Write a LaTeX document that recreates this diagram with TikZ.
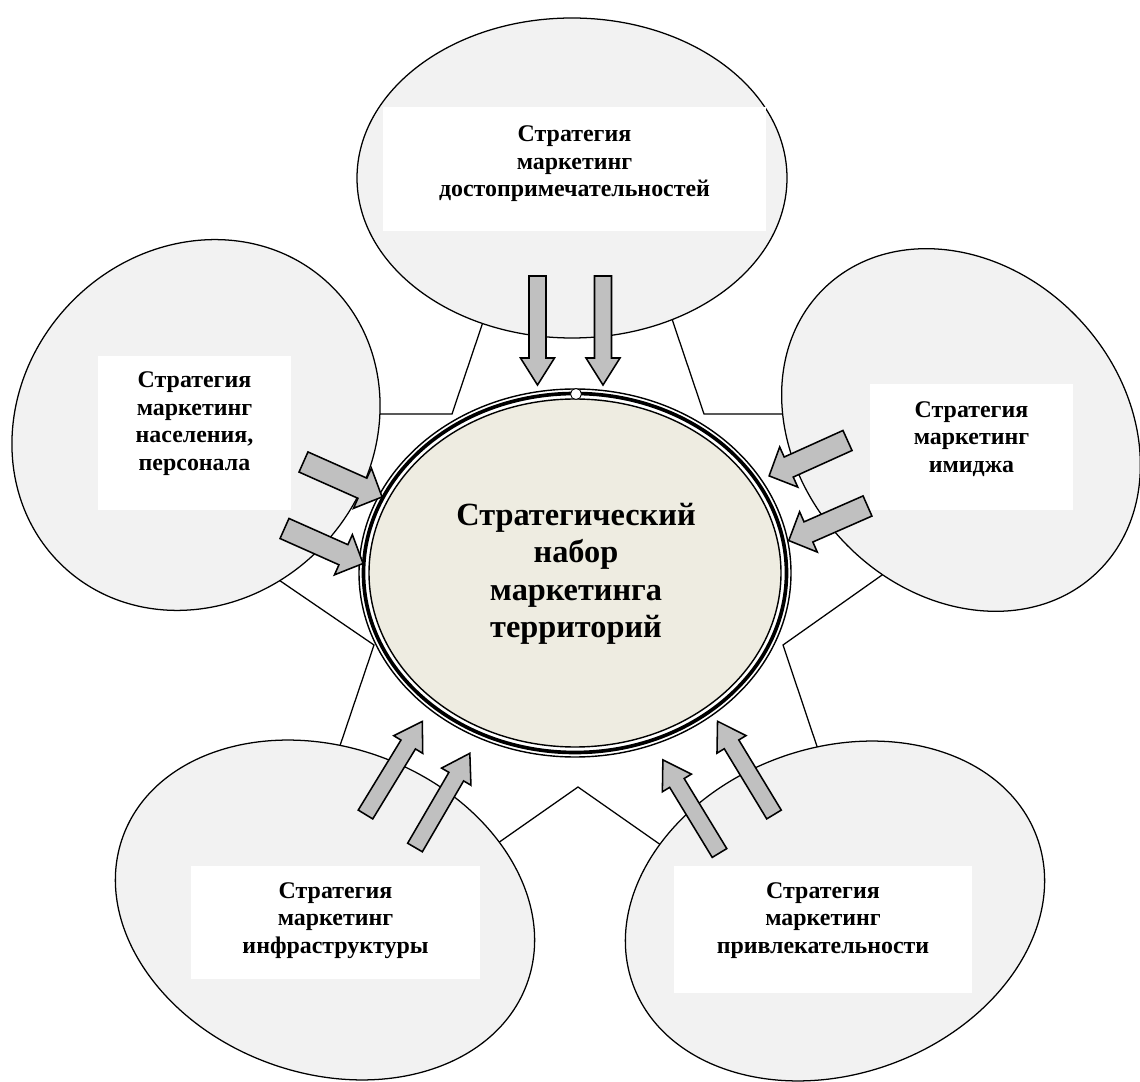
\documentclass[tikz,border=0pt]{standalone}
\usepackage{fontspec}
\setmainfont{Liberation Serif}

\definecolor{ovalgray}{HTML}{F2F2F2}
\definecolor{arrowgray}{HTML}{C0C0C0}
\definecolor{hubbeige}{HTML}{EEECE1}

\tikzset{
  oval/.style={draw=black, fill=ovalgray, line width=0.9pt},
  starline/.style={draw=black, line width=0.9pt},
  smalltext/.style={font=\bfseries\fontsize{17}{19.6}\selectfont, align=center, inner sep=0pt},
  bigtext/.style={font=\bfseries\fontsize{23}{26.6}\selectfont, align=center, inner sep=0pt},
  arrowline/.style={draw=black, fill=arrowgray, line width=1.1pt, line join=miter},
  % block arrow along +x: length, half shaft, half head, head length
  pics/blockarrow/.style n args={4}{code={
    \path[arrowline] (0,-#2) -- (#1-#4,-#2) -- (#1-#4,-#3) -- (#1,0)
      -- (#1-#4,#3) -- (#1-#4,#2) -- (0,#2) -- cycle;
  }},
}

\begin{document}
\begin{tikzpicture}[x=0.025cm, y=-0.025cm]

\clip (0,0) rectangle (1140,1082);

% star behind everything
\coordinate (tipT) at (578,40);
\coordinate (tipR) at (1110,414);
\coordinate (tipBR) at (908,1018);
\coordinate (tipBL) at (248,1018);
\coordinate (tipL) at (36,414);
\coordinate (inTL) at (452,414);
\coordinate (inTR) at (704,414);
\coordinate (inBR) at (783,645);
\coordinate (inB) at (578,787);
\coordinate (inBL) at (374,645);
\draw[starline] (tipT) -- (inTR) -- (tipR) -- (inBR) -- (tipBR) -- (inB)
  -- (tipBL) -- (inBL) -- (tipL) -- (inTL) -- cycle;

% outer ovals
\draw[oval] (572,178) ellipse [x radius=215, y radius=160];
\draw[oval, rotate around={47:(196,425)}] (196,425) ellipse [x radius=194, y radius=175];
\draw[oval, rotate around={-46.6:(961,430)}] (961,430) ellipse [x radius=197, y radius=162];
\draw[oval, rotate around={-20:(325,910)}] (325,910) ellipse [x radius=215, y radius=163];
\draw[oval, rotate around={20:(835,911)}] (835,911) ellipse [x radius=215, y radius=163];

% white boxes
\fill[white] (383,107) rectangle (766,231);
\fill[white] (98,356) rectangle (291,510);
\fill[white] (870,384) rectangle (1073,510);
\fill[white] (191,866) rectangle (480,979);
\fill[white] (674,866) rectangle (972,993);

\node[smalltext] (sights) at (574.5,164) {Стратегия\\маркетинг\\достопримечательностей};
\node[smalltext] (people) at (194.5,423.5) {Стратегия\\маркетинг\\населения,\\персонала};
\node[smalltext] (image) at (971.5,439) {Стратегия\\маркетинг\\имиджа};
\node[smalltext] (infra) at (335.5,920.5) {Стратегия\\маркетинг\\инфраструктуры};
\node[smalltext] (appeal) at (823,920.5) {Стратегия\\маркетинг\\привлекательности};

% centre
\coordinate (hub) at (575,573);
\fill[white] (hub) ellipse [x radius=217, y radius=185];
\fill[hubbeige] (hub) ellipse [x radius=206, y radius=174];
\draw[line width=1pt] (hub) ellipse [x radius=216, y radius=184];
\draw[line width=2.6pt] (hub) ellipse [x radius=211.5, y radius=179.5];
\draw[line width=1pt] (hub) ellipse [x radius=206, y radius=174];
\draw[fill=white, line width=0.6pt] (576,394) circle [radius=5.5];
\node[bigtext] (hubtext) at (576,574) {Стратегический\\набор\\маркетинга\\территорий};

% arrows
\pic[rotate=-90] at (537.5,276) {blockarrow={109}{8.5}{17}{27}};
\pic[rotate=-90] at (603,276) {blockarrow={109}{8.5}{17}{27}};
\pic[rotate=-24] at (303.5,462) {blockarrow={86}{11}{22}{21.5}};
\pic[rotate=-24] at (284.5,528.5) {blockarrow={86}{11}{22}{21.5}};
\pic[rotate=-155.7] at (847.5,440.5) {blockarrow={86}{11}{22}{21.5}};
\pic[rotate=-156.3] at (867.5,506) {blockarrow={86}{11}{22}{21.5}};
\pic[rotate=58.6] at (365.5,814.5) {blockarrow={109}{8.5}{17}{27}};
\pic[rotate=59.8] at (415,847.5) {blockarrow={109}{8.5}{17}{27}};
\pic[rotate=121.3] at (719.5,853) {blockarrow={109}{8.5}{17}{27}};
\pic[rotate=121.2] at (774,814.5) {blockarrow={109}{8.5}{17}{27}};

\end{tikzpicture}
\end{document}
